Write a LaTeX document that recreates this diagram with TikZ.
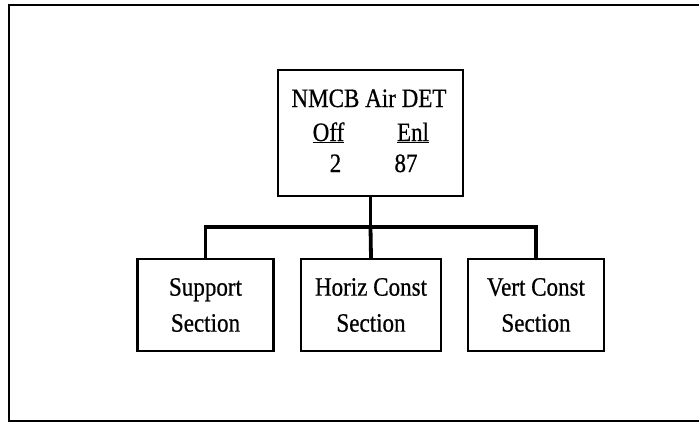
\documentclass[tikz,border=0pt]{standalone}
\usepackage{fontspec}
\setmainfont{Liberation Serif}[FakeStretch=0.87,FakeBold=0.6]
\begin{document}
\begin{tikzpicture}[x=1pt,y=-1pt,
  box/.style={draw=black, line width=2.2pt, fill=white, inner sep=0pt},
  lowbox/.style={box, minimum width=136pt, minimum height=92pt, align=center,
    font=\fontsize{26.5}{36}\selectfont},
  txt/.style={inner sep=0pt, anchor=base, font=\fontsize{26.5}{30}\selectfont},
  conn/.style={draw=black, line width=3.8pt},
  frame/.style={draw=black, line width=2.2pt}]
\useasboundingbox (0,0) rectangle (699,423);
% outer frame (left, top, bottom)
\coordinate (ftr) at (699,5);
\coordinate (ftl) at (9,5);
\coordinate (fbl) at (9,421);
\coordinate (fbr) at (699,421);
\draw[frame] (ftr) -- (ftl) -- (fbl) -- (fbr);
% top box
\node[box, minimum width=185pt, minimum height=126pt] (top) at (370.5,133) {};
\node[txt] (title) at (369,107) {NMCB Air DET};
\node[txt] (off) at (328.5,141) {\underline{Off}};
\node[txt] (enl) at (413,141) {\underline{Enl}};
\node[txt] (noff) at (335.5,172) {2};
\node[txt] (nenl) at (406,172) {87};
% lower boxes
\node[lowbox] (sup) at (205.5,305) {Support\\Section};
\node[lowbox, minimum width=140pt] (hor) at (371,305) {Horiz Const\\Section};
\node[lowbox] (ver) at (536,305) {Vert Const\\Section};
% connectors
\coordinate (bus) at (370.5,227);
\draw[conn] (top.south) -- (bus);
\draw[conn] (sup.north) -- (sup.north |- bus) -- (ver.north |- bus) -- (ver.north);
\draw[conn] (bus) -- (hor.north);
\end{tikzpicture}
\end{document}
